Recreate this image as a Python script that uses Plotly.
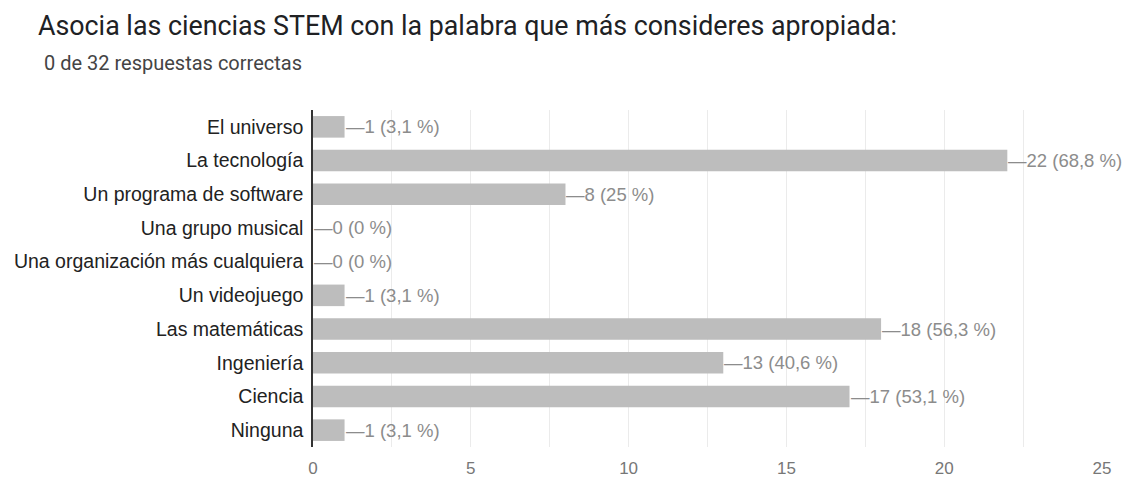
import plotly.graph_objects as go

# Answers to the STEM association question (32 responses)
categories = [
    "El universo",
    "La tecnología",
    "Un programa de software",
    "Una grupo musical",
    "Una organización más cualquiera",
    "Un videojuego",
    "Las matemáticas",
    "Ingeniería",
    "Ciencia",
    "Ninguna",
]
counts = [1, 22, 8, 0, 0, 1, 18, 13, 17, 1]
percents = ["3,1", "68,8", "25", "0", "0", "3,1", "56,3", "40,6", "53,1", "3,1"]
x_ticks = [0, 5, 10, 15, 20, 25]

fig = go.Figure()
fig.add_trace(go.Bar(
    x=counts,
    y=categories,
    orientation="h",
    marker=dict(color="#bdbdbd", line=dict(width=0)),
    width=0.64,
    hoverinfo="skip",
))

# value labels with a short leader line after each bar
for cat, n, p in zip(categories, counts, percents):
    fig.add_annotation(
        x=n, y=cat, xref="x", yref="y",
        text=f"—{n} ({p} %)",
        showarrow=False, xanchor="left", yanchor="middle",
        xshift=-1,
        font=dict(family="Liberation Sans, Arial", size=18.5, color="#8c8c8c"),
    )

fig.add_annotation(
    text="0 de 32 respuestas correctas",
    xref="paper", yref="paper",
    x=(42 - 313) / 789, y=1 + (110 - 63) / 337,
    xanchor="left", yanchor="middle", showarrow=False,
    font=dict(family="Roboto", size=20, color="#444444"),
)

fig.update_layout(
    width=1131, height=477,
    margin=dict(l=313, r=29, t=110, b=30, autoexpand=False),
    paper_bgcolor="white", plot_bgcolor="white",
    showlegend=False,
    title=dict(
        text="Asocia las ciencias STEM con la palabra que más consideres apropiada:",
        x=38 / 1131, xanchor="left", xref="container",
        y=1 - 26 / 477, yanchor="middle", yref="container",
        font=dict(family="Roboto", size=26.8, color="#202124"),
        automargin=False,
    ),
    xaxis=dict(
        range=[0, 25],
        tickvals=x_ticks,
        ticktext=[str(t) for t in x_ticks],
        showgrid=True, gridcolor="#ebebeb", gridwidth=1,
        minor=dict(dtick=2.5, tick0=0, showgrid=True, gridcolor="#ebebeb", gridwidth=1),
        zeroline=False, showline=False,
        ticks="outside", ticklen=6, tickcolor="rgba(0,0,0,0)",
        tickfont=dict(family="Liberation Sans, Arial", size=17, color="#777777"),
        automargin=False,
        fixedrange=True,
    ),
    yaxis=dict(
        categoryorder="array", categoryarray=categories,
        autorange="reversed",
        showgrid=False, zeroline=False,
        showline=True, linecolor="#333333", linewidth=1.5,
        ticks="outside", ticklen=4, tickcolor="rgba(0,0,0,0)",
        tickfont=dict(family="Liberation Sans, Arial", size=19.5, color="#222222"),
        automargin=False,
        fixedrange=True,
    ),
)

fig.write_html("out.html")
